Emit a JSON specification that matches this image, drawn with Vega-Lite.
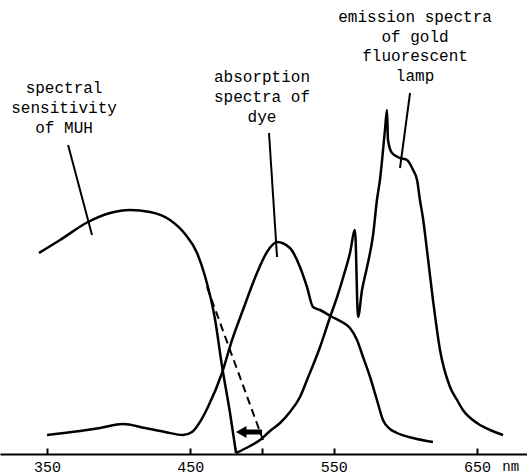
{
  "$schema": "https://vega.github.io/schema/vega-lite/v6.json",
  "width": 527,
  "height": 476,
  "padding": 0,
  "autosize": {"type": "none"},
  "background": "white",
  "config": {"view": {"stroke": null}},
  "datasets": {
    "curves": [
      {"series": "MUH", "nm": 344.4, "h": 201},
      {"series": "MUH", "nm": 359.1, "h": 214},
      {"series": "MUH", "nm": 378.6, "h": 232},
      {"series": "MUH", "nm": 394.0, "h": 241},
      {"series": "MUH", "nm": 407.9, "h": 244},
      {"series": "MUH", "nm": 421.9, "h": 242},
      {"series": "MUH", "nm": 435.8, "h": 234},
      {"series": "MUH", "nm": 446.3, "h": 220},
      {"series": "MUH", "nm": 454.7, "h": 201},
      {"series": "MUH", "nm": 460.2, "h": 178},
      {"series": "MUH", "nm": 467.2, "h": 135},
      {"series": "MUH", "nm": 472.1, "h": 88},
      {"series": "MUH", "nm": 477.7, "h": 41},
      {"series": "MUH", "nm": 481.9, "h": 1},
      {"series": "dye", "nm": 350.0, "h": 19},
      {"series": "dye", "nm": 373.0, "h": 23},
      {"series": "dye", "nm": 387.0, "h": 26},
      {"series": "dye", "nm": 403.0, "h": 30},
      {"series": "dye", "nm": 418.4, "h": 26},
      {"series": "dye", "nm": 432.3, "h": 22},
      {"series": "dye", "nm": 444.9, "h": 19},
      {"series": "dye", "nm": 451.2, "h": 22},
      {"series": "dye", "nm": 456.7, "h": 32},
      {"series": "dye", "nm": 462.3, "h": 47},
      {"series": "dye", "nm": 472.1, "h": 81},
      {"series": "dye", "nm": 479.1, "h": 114},
      {"series": "dye", "nm": 486.7, "h": 144},
      {"series": "dye", "nm": 496.5, "h": 181},
      {"series": "dye", "nm": 503.5, "h": 202},
      {"series": "dye", "nm": 510.5, "h": 212},
      {"series": "dye", "nm": 519.5, "h": 206},
      {"series": "dye", "nm": 526.5, "h": 187},
      {"series": "dye", "nm": 531.4, "h": 167},
      {"series": "dye", "nm": 535.6, "h": 147},
      {"series": "dye", "nm": 540.5, "h": 144},
      {"series": "dye", "nm": 548.9, "h": 137},
      {"series": "dye", "nm": 555.8, "h": 132},
      {"series": "dye", "nm": 561.4, "h": 126},
      {"series": "dye", "nm": 566.3, "h": 114},
      {"series": "dye", "nm": 570.5, "h": 97},
      {"series": "dye", "nm": 575.4, "h": 77},
      {"series": "dye", "nm": 580.2, "h": 54},
      {"series": "dye", "nm": 584.4, "h": 34},
      {"series": "dye", "nm": 589.3, "h": 25},
      {"series": "dye", "nm": 594.2, "h": 21},
      {"series": "dye", "nm": 605.4, "h": 16},
      {"series": "dye", "nm": 619.3, "h": 12},
      {"series": "lamp", "nm": 481.9, "h": 1},
      {"series": "lamp", "nm": 491.6, "h": 8},
      {"series": "lamp", "nm": 498.6, "h": 14},
      {"series": "lamp", "nm": 505.6, "h": 23},
      {"series": "lamp", "nm": 512.6, "h": 31},
      {"series": "lamp", "nm": 519.5, "h": 42},
      {"series": "lamp", "nm": 526.5, "h": 57},
      {"series": "lamp", "nm": 531.4, "h": 74},
      {"series": "lamp", "nm": 540.5, "h": 107},
      {"series": "lamp", "nm": 547.5, "h": 137},
      {"series": "lamp", "nm": 552.4, "h": 157},
      {"series": "lamp", "nm": 556.5, "h": 176},
      {"series": "lamp", "nm": 561.4, "h": 201},
      {"series": "lamp", "nm": 564.9, "h": 224},
      {"series": "lamp", "nm": 567.0, "h": 137},
      {"series": "lamp", "nm": 569.8, "h": 164},
      {"series": "lamp", "nm": 573.3, "h": 187},
      {"series": "lamp", "nm": 577.5, "h": 219},
      {"series": "lamp", "nm": 580.2, "h": 254},
      {"series": "lamp", "nm": 582.3, "h": 274},
      {"series": "lamp", "nm": 585.8, "h": 324},
      {"series": "lamp", "nm": 587.2, "h": 344},
      {"series": "lamp", "nm": 587.9, "h": 314},
      {"series": "lamp", "nm": 590.7, "h": 301},
      {"series": "lamp", "nm": 596.3, "h": 296},
      {"series": "lamp", "nm": 601.2, "h": 294},
      {"series": "lamp", "nm": 605.4, "h": 284},
      {"series": "lamp", "nm": 608.2, "h": 274},
      {"series": "lamp", "nm": 610.2, "h": 254},
      {"series": "lamp", "nm": 612.3, "h": 236},
      {"series": "lamp", "nm": 615.1, "h": 204},
      {"series": "lamp", "nm": 619.3, "h": 154},
      {"series": "lamp", "nm": 624.2, "h": 104},
      {"series": "lamp", "nm": 631.2, "h": 67},
      {"series": "lamp", "nm": 636.1, "h": 54},
      {"series": "lamp", "nm": 640.2, "h": 44},
      {"series": "lamp", "nm": 650.0, "h": 31},
      {"series": "lamp", "nm": 659.1, "h": 24},
      {"series": "lamp", "nm": 668.2, "h": 19}
    ],
    "dashed": [
      {"series": "MUH original", "nm": 461.6, "h": 167},
      {"series": "MUH original", "nm": 500.7, "h": 14}
    ],
    "leaders": [
      {"series": "MUH", "nm": 364.7, "h": 309},
      {"series": "MUH", "nm": 381.4, "h": 219},
      {"series": "dye", "nm": 504.9, "h": 321},
      {"series": "dye", "nm": 510.5, "h": 197},
      {"series": "lamp", "nm": 596.3, "h": 286},
      {"series": "lamp", "nm": 603.3, "h": 361}
    ],
    "arrow": [
      {"nm": 500.0, "nm2": 486.0, "h": 22}
    ],
    "arrowhead": [
      {"nm": 485.5, "h": 22}
    ],
    "labels": [
      {"text": "spectral", "nm": 361.9, "h": 366},
      {"text": "sensitivity", "nm": 361.9, "h": 346},
      {"text": "of MUH", "nm": 361.9, "h": 326},
      {"text": "absorption", "nm": 500.0, "h": 377},
      {"text": "spectra of", "nm": 500.0, "h": 357},
      {"text": "dye", "nm": 500.0, "h": 337},
      {"text": "emission spectra", "nm": 606.8, "h": 437},
      {"text": "of gold", "nm": 606.8, "h": 417},
      {"text": "fluorescent", "nm": 606.8, "h": 398},
      {"text": "lamp", "nm": 606.8, "h": 378}
    ],
    "unit": [
      {"text": "nm", "nm": 673.5, "h": -13}
    ]
  },
  "encoding": {
    "x": {
      "field": "nm",
      "type": "quantitative",
      "scale": {"domain": [317.2, 684.9], "nice": false, "zero": false},
      "axis": {
        "orient": "bottom",
        "offset": -22,
        "values": [350, 450, 500, 550, 650],
        "labelExpr": "datum.value == 500 ? '' : datum.label",
        "format": "d",
        "domainColor": "black",
        "domainWidth": 2,
        "tickColor": "black",
        "tickWidth": 2,
        "tickSize": -6,
        "labelFont": "Liberation Mono",
        "labelFontSize": 15,
        "labelColor": "black",
        "labelPadding": 11,
        "grid": false,
        "title": null
      }
    },
    "y": {
      "field": "h",
      "type": "quantitative",
      "scale": {"domain": [-22, 454], "nice": false, "zero": false},
      "axis": null
    }
  },
  "layer": [
    {
      "data": {"name": "curves"},
      "mark": {"type": "line", "color": "black", "strokeWidth": 2.5, "interpolate": "monotone"},
      "encoding": {"detail": {"field": "series"}}
    },
    {
      "data": {"name": "dashed"},
      "mark": {"type": "line", "color": "black", "strokeWidth": 2, "strokeDash": [8, 5]},
      "encoding": {"detail": {"field": "series"}}
    },
    {
      "data": {"name": "leaders"},
      "mark": {"type": "line", "color": "black", "strokeWidth": 2},
      "encoding": {"detail": {"field": "series"}}
    },
    {
      "data": {"name": "arrow"},
      "mark": {"type": "rule", "color": "black", "strokeWidth": 5},
      "encoding": {"x2": {"field": "nm2"}}
    },
    {
      "data": {"name": "arrowhead"},
      "mark": {"type": "point", "shape": "triangle-left", "filled": true, "color": "black", "size": 150, "opacity": 1},
      "encoding": {}
    },
    {
      "data": {"name": "labels"},
      "mark": {"type": "text", "font": "Liberation Mono", "fontSize": 16, "color": "black", "align": "center", "baseline": "middle"},
      "encoding": {"text": {"field": "text"}}
    },
    {
      "data": {"name": "unit"},
      "mark": {"type": "text", "font": "Liberation Mono", "fontSize": 14, "color": "black", "align": "center", "baseline": "middle"},
      "encoding": {"text": {"field": "text"}}
    }
  ]
}
